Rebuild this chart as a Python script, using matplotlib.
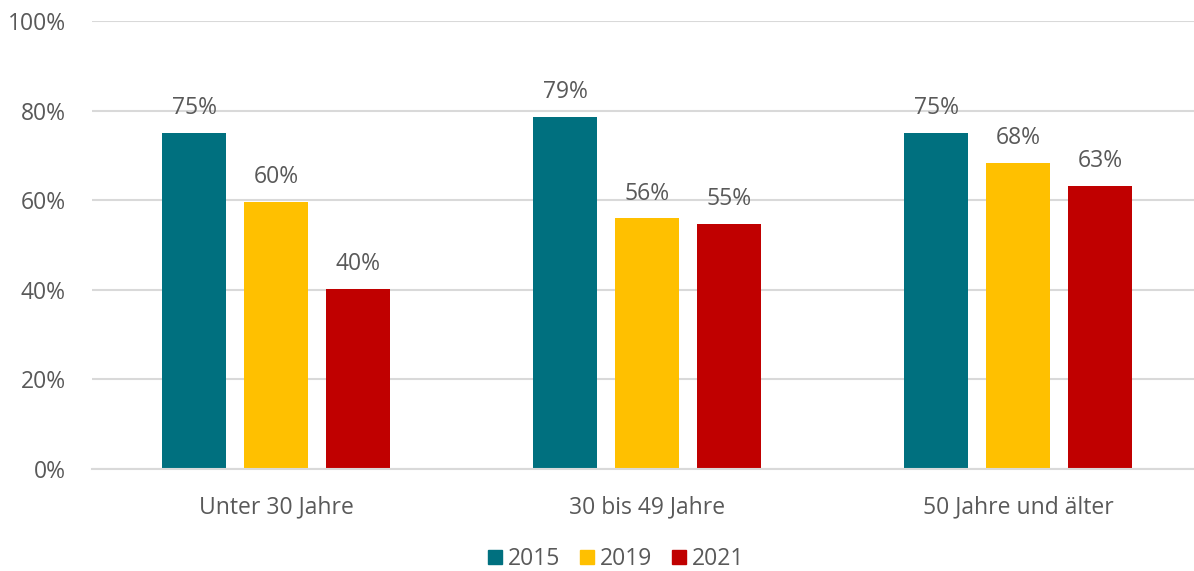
import matplotlib
matplotlib.use("Agg")
import matplotlib.pyplot as plt
import matplotlib.patches as patches
import numpy as np

# Age groups and shares per survey year
categories = ["Unter 30 Jahre", "30 bis 49 Jahre", "50 Jahre und älter"]
years = ["2015", "2019", "2021"]
share_2015 = [0.75, 0.786, 0.75]
share_2019 = [0.597, 0.56, 0.683]
share_2021 = [0.402, 0.547, 0.632]
yticks = [0.0, 0.2, 0.4, 0.6, 0.8, 1.0]

COLORS = ["#00707F", "#FFC000", "#C00000"]
TEXT = "#595959"
GRID = "#D9D9D9"
FS = 16.5

plt.rcParams['font.family'] = ['Open Sans', 'DejaVu Sans']

fig = plt.figure(figsize=(11.94, 5.71), dpi=100)
ax = fig.add_axes([92 / 1194, 1 - 469 / 571, 1102 / 1194, 448 / 571])

x = np.arange(len(categories))
width = 0.1725
offset = 0.221

for i, (vals, color) in enumerate(zip([share_2015, share_2019, share_2021], COLORS)):
    pos = x + (i - 1) * offset
    ax.bar(pos, vals, width=width, color=color, zorder=2)
    for xp, v in zip(pos, vals):
        ax.text(xp, v + 0.028, f"{round(v * 100):.0f}%", ha='center', va='bottom',
                fontsize=FS, color=TEXT, zorder=3)

ax.set_xlim(-0.496, 2.474)
ax.set_ylim(0, 1.0)
ax.set_yticks(yticks)
ax.set_yticklabels([f"{int(t * 100)}%" for t in yticks])
ax.set_xticks(x)
ax.set_xticklabels(categories)
ax.tick_params(axis='both', length=0, labelsize=FS, colors=TEXT)
ax.tick_params(axis='y', pad=19)
ax.tick_params(axis='x', pad=19)
ax.yaxis.grid(True, color=GRID, linewidth=1.5, zorder=0)
ax.set_axisbelow(True)
for spine in ax.spines.values():
    spine.set_visible(False)
ax.spines['bottom'].set_visible(True)
ax.spines['bottom'].set_color(GRID)
ax.spines['bottom'].set_linewidth(1.5)

handles = [patches.Patch(color=c, label=y) for c, y in zip(COLORS, years)]
fig.legend(handles=handles, loc='center', bbox_to_anchor=(616 / 1194, 1 - 559 / 571), ncol=3,
           frameon=False, fontsize=FS, labelcolor=TEXT, handlelength=0.62, handleheight=0.62,
           handletextpad=0.25, columnspacing=0.85)

fig.savefig("out.png", dpi=100)
